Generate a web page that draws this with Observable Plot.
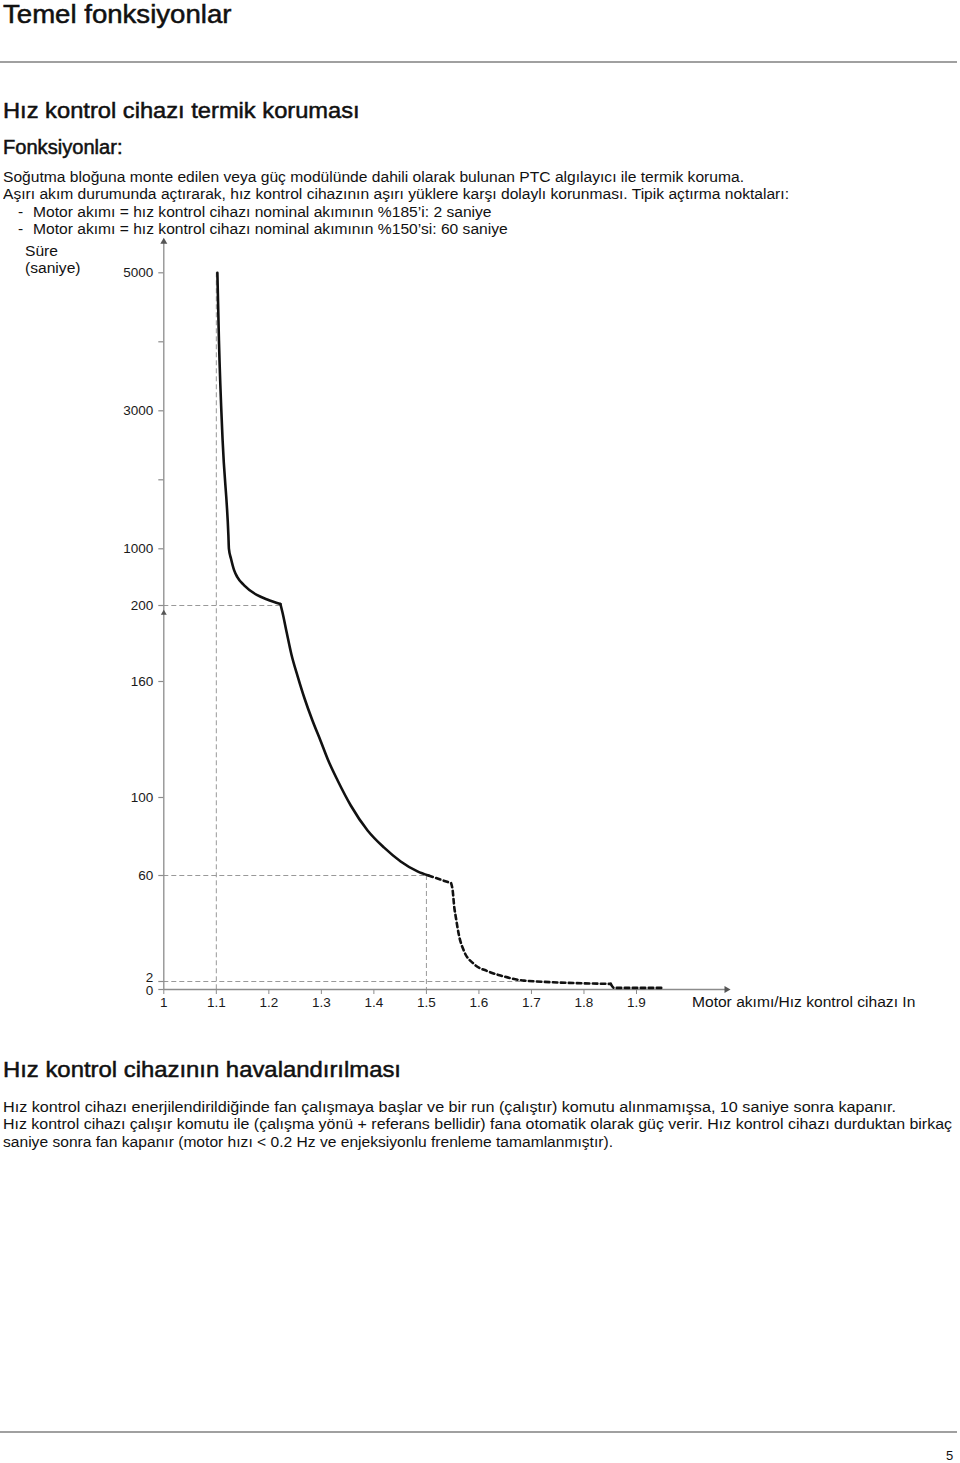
<!DOCTYPE html>
<html>
<head>
<meta charset="utf-8">
<script src="https://cdn.jsdelivr.net/npm/d3@7"></script>
<script src="https://cdn.jsdelivr.net/npm/@observablehq/plot@0.6"></script>
<style>
  html, body { margin: 0; padding: 0; background: #fff; }
  body { width: 960px; height: 1463px; position: relative; overflow: hidden;
         font-family: "Liberation Sans", Arial, Helvetica, sans-serif; color: #111; }
  .t { position: absolute; white-space: nowrap; line-height: 1; transform-origin: 0 0; }
  .h { -webkit-text-stroke: 0.5px #111; }
  .rule { position: absolute; left: 0; width: 957px; height: 2px; background: #a0a0a0; }
  #chart { position: absolute; left: 0; top: 230px; }
</style>
</head>
<body>
<div class="rule" style="top:61px"></div>
<div class="rule" style="top:1431px;height:1.5px"></div>
<div id="chart"></div>
<script>
// ---------------- data ----------------
const pageTitle = "Temel fonksiyonlar";
const heading1 = "Hız kontrol cihazı termik koruması";
const subheading1 = "Fonksiyonlar:";
const introLines = [
  "Soğutma bloğuna monte edilen veya güç modülünde dahili olarak bulunan PTC algılayıcı ile termik koruma.",
  "Aşırı akım durumunda açtırarak, hız kontrol cihazının aşırı yüklere karşı dolaylı korunması. Tipik açtırma noktaları:"
];
const bulletLines = [
  "Motor akımı = hız kontrol cihazı nominal akımının %185’i: 2 saniye",
  "Motor akımı = hız kontrol cihazı nominal akımının %150’si: 60 saniye"
];
const yAxisTitle = ["Süre", "(saniye)"];
const xAxisTitle = "Motor akımı/Hız kontrol cihazı In";
const heading2 = "Hız kontrol cihazının havalandırılması";
const fanLines = [
  "Hız kontrol cihazı enerjilendirildiğinde fan çalışmaya başlar ve bir run (çalıştır) komutu alınmamışsa, 10 saniye sonra kapanır.",
  "Hız kontrol cihazı çalışır komutu ile (çalışma yönü + referans bellidir) fana otomatik olarak güç verir. Hız kontrol cihazı durduktan birkaç",
  "saniye sonra fan kapanır (motor hızı < 0.2 Hz ve enjeksiyonlu frenleme tamamlanmıştır)."
];
const pageNumber = "5";

// axis ticks
const xTicks = [1, 1.1, 1.2, 1.3, 1.4, 1.5, 1.6, 1.7, 1.8, 1.9];
const yTicks = [0, 2, 60, 100, 160, 200, 1000, 3000, 5000];
const yMinorTicks = [2000, 4000];
const yBreaks = [0, 2, 60, 100, 160, 200, 1000, 5000];

// solid trip curve (current ratio, time in s), upper branch down to the knee
const upperCurrent = [1.102, 1.105, 1.112, 1.123, 1.124, 1.128, 1.134, 1.140, 1.153, 1.178, 1.197, 1.222];
const upperTime    = [5000, 4019, 2570, 1193, 1000, 860, 695, 601, 485, 345, 284, 221];
// solid lower branch from the knee to 60 s
const lowerCurrent = [1.222, 1.226, 1.234, 1.243, 1.255, 1.268, 1.283, 1.299, 1.314, 1.331, 1.356, 1.388, 1.419, 1.451, 1.483, 1.504];
const lowerTime    = [221, 196.3, 185.8, 174.2, 162.6, 151.2, 139.8, 129.0, 118.6, 108.8, 95.9, 83.1, 74.4, 67.2, 62.1, 60];
// dotted continuation (three pieces)
const dotACurrent = [1.504, 1.547];
const dotATime    = [60, 55.8];
const dotBCurrent = [1.547, 1.550, 1.553, 1.556, 1.562, 1.571, 1.590, 1.616, 1.641, 1.686, 1.851];
const dotBTime    = [55.8, 51.8, 42.7, 37.2, 27.2, 19, 11.7, 7.7, 5.3, 2.5, 1.4];
const dotCCurrent = [1.851, 1.857, 1.952];
const dotCTime    = [1.4, 0.4, 0.4];

// dashed guide lines
const guideX = [1.1, 1.5];
const guideXTop = [5000, 60];
const guideY = [200, 60, 2];
const guideYEnd = [1.222, 1.5, 1.69];
const axisMidArrow = [196];

// ---------------- text layout helper ----------------
function make(text, x, baseline, fs, cls) {
  const d = document.createElement("div");
  d.className = "t" + (cls ? " " + cls : "");
  d.textContent = text;
  d.style.fontSize = fs + "px";
  d.style.left = x + "px";
  d.style.top = (baseline - 0.8465 * fs) + "px";
  document.body.appendChild(d);
  return d;
}
function fit(d, x, right) {
  const w = d.getBoundingClientRect().width;
  const k = (right - x) / w;
  d.style.transform = `scaleX(${k})`;
  return k;
}
function scaleBy(d, k) { d.style.transform = `scaleX(${k})`; }

fit(make(pageTitle, 3.3, 23.3, 25, "h"), 3.3, 231.7);
fit(make(heading1, 3.3, 118.3, 22, "h"), 3.3, 360);
fit(make(subheading1, 3, 155, 19.5, "h"), 3, 122.5);

const bodyFs = 15.5;
const kBody = fit(make(introLines[0], 3, 181.7, bodyFs), 3, 744);
scaleBy(make(introLines[1], 3, 199.2, bodyFs), kBody);
make("-", 18, 216.8, bodyFs);
scaleBy(make(bulletLines[0], 33.3, 216.8, bodyFs), kBody);
make("-", 18, 234.4, bodyFs);
scaleBy(make(bulletLines[1], 33.3, 234.4, bodyFs), kBody);
scaleBy(make(yAxisTitle[0], 25, 256, bodyFs), kBody);
scaleBy(make(yAxisTitle[1], 25, 273.3, bodyFs), kBody);
fit(make(xAxisTitle, 691.7, 1006.7, bodyFs), 691.7, 915);

fit(make(heading2, 3, 1077.7, 22, "h"), 3, 401);
fit(make(fanLines[0], 3, 1111.7, bodyFs), 3, 896);
fit(make(fanLines[1], 3, 1129.2, bodyFs), 3, 952);
fit(make(fanLines[2], 3, 1146.7, bodyFs), 3, 613);
make(pageNumber, 946, 1460, 13);

// ---------------- chart ----------------
const pts = (xs, ys, seg) => xs.map((x, i) => ({x, y: ys[i], seg}));
const solid = [...pts(upperCurrent, upperTime, "upper"), ...pts(lowerCurrent, lowerTime, "lower")];
const dotted = [...pts(dotACurrent, dotATime, "a"), ...pts(dotBCurrent, dotBTime, "b"), ...pts(dotCCurrent, dotCTime, "c")];
const vGuides = guideX.map((x, i) => ({x, top: guideXTop[i]}));
const hGuides = guideY.map((y, i) => ({y, end: guideYEnd[i]}));

// broken (piecewise) time axis: relative heights of each break above the baseline
const yPiece = d3.scaleLinear().domain(yBreaks).range([0, 8, 114, 192, 308, 384, 440.7, 716.7]);

const gray = "#8c8c8c";
const ink = "#1a1a1a";
const chart = Plot.plot({
  width: 960,
  height: 790,
  marginLeft: 163.3,
  marginRight: 324,
  marginTop: 42.3,
  marginBottom: 31,
  style: {fontFamily: "'Liberation Sans', Arial, sans-serif", background: "transparent", overflow: "visible", color: ink},
  x: {domain: [1, 1.9], axis: null},
  y: {transform: v => yPiece(v), axis: null},
  marks: [
    // dashed guides
    Plot.ruleX(vGuides, {x: "x", y1: "top", y2: 0, stroke: "#999", strokeWidth: 1, strokeDasharray: "5,3"}),
    Plot.ruleY(hGuides, {y: "y", x1: 1, x2: "end", stroke: "#999", strokeWidth: 1, strokeDasharray: "5,3"}),
    // axis lines with arrowheads
    Plot.ruleX([1], {y1: 5000, y2: 0, insetTop: -32, stroke: gray, strokeWidth: 1.3}),
    Plot.ruleY([0], {x1: 1, x2: 1.9, insetRight: -90, stroke: gray, strokeWidth: 1.3}),
    Plot.dot([5000], {x: () => 1, y: d => d, dy: -31, symbol: "triangle", r: 2.6, fill: "#555", stroke: null}),
    Plot.dot(axisMidArrow, {x: () => 1, y: d => d, symbol: "triangle", r: 2.2, fill: "#555", stroke: null}),
    Plot.dot([0], {x: () => 1.9, y: d => d, dx: 90, rotate: 90, symbol: "triangle", r: 2.6, fill: "#555", stroke: null}),
    // y ticks (on the broken scale)
    Plot.ruleY(yTicks.concat(yMinorTicks), {y: d => d, x1: 1, x2: 1, insetLeft: -5, stroke: gray, strokeWidth: 1.2}),
    Plot.text(yTicks.filter(d => d > 2), {x: () => 1, y: d => d, text: d => String(d), dx: -10.6, textAnchor: "end", fontSize: 13.5, fill: ink}),
    Plot.text([2], {x: () => 1, y: d => d, text: d => String(d), dx: -10.6, dy: -3.5, textAnchor: "end", fontSize: 13.5, fill: ink}),
    Plot.text([0], {x: () => 1, y: d => d, text: d => String(d), dx: -10.6, dy: 1.5, textAnchor: "end", fontSize: 13.5, fill: ink}),
    // x axis
    Plot.axisX({ticks: xTicks, tickSize: 5, tickPadding: 3, stroke: gray, fill: ink, fontSize: 13.5, label: null, tickFormat: d => String(d)}),
    // curve
    Plot.line(solid, {x: "x", y: "y", z: "seg", curve: "monotone-x", stroke: "#111", strokeWidth: 2.6, strokeLinejoin: "round"}),
    Plot.line(dotted, {x: "x", y: "y", z: "seg", curve: "monotone-x", stroke: "#111", strokeWidth: 2.6, strokeDasharray: "4.5,3.5"})
  ]
});
document.getElementById("chart").appendChild(chart);
</script>
</body>
</html>
